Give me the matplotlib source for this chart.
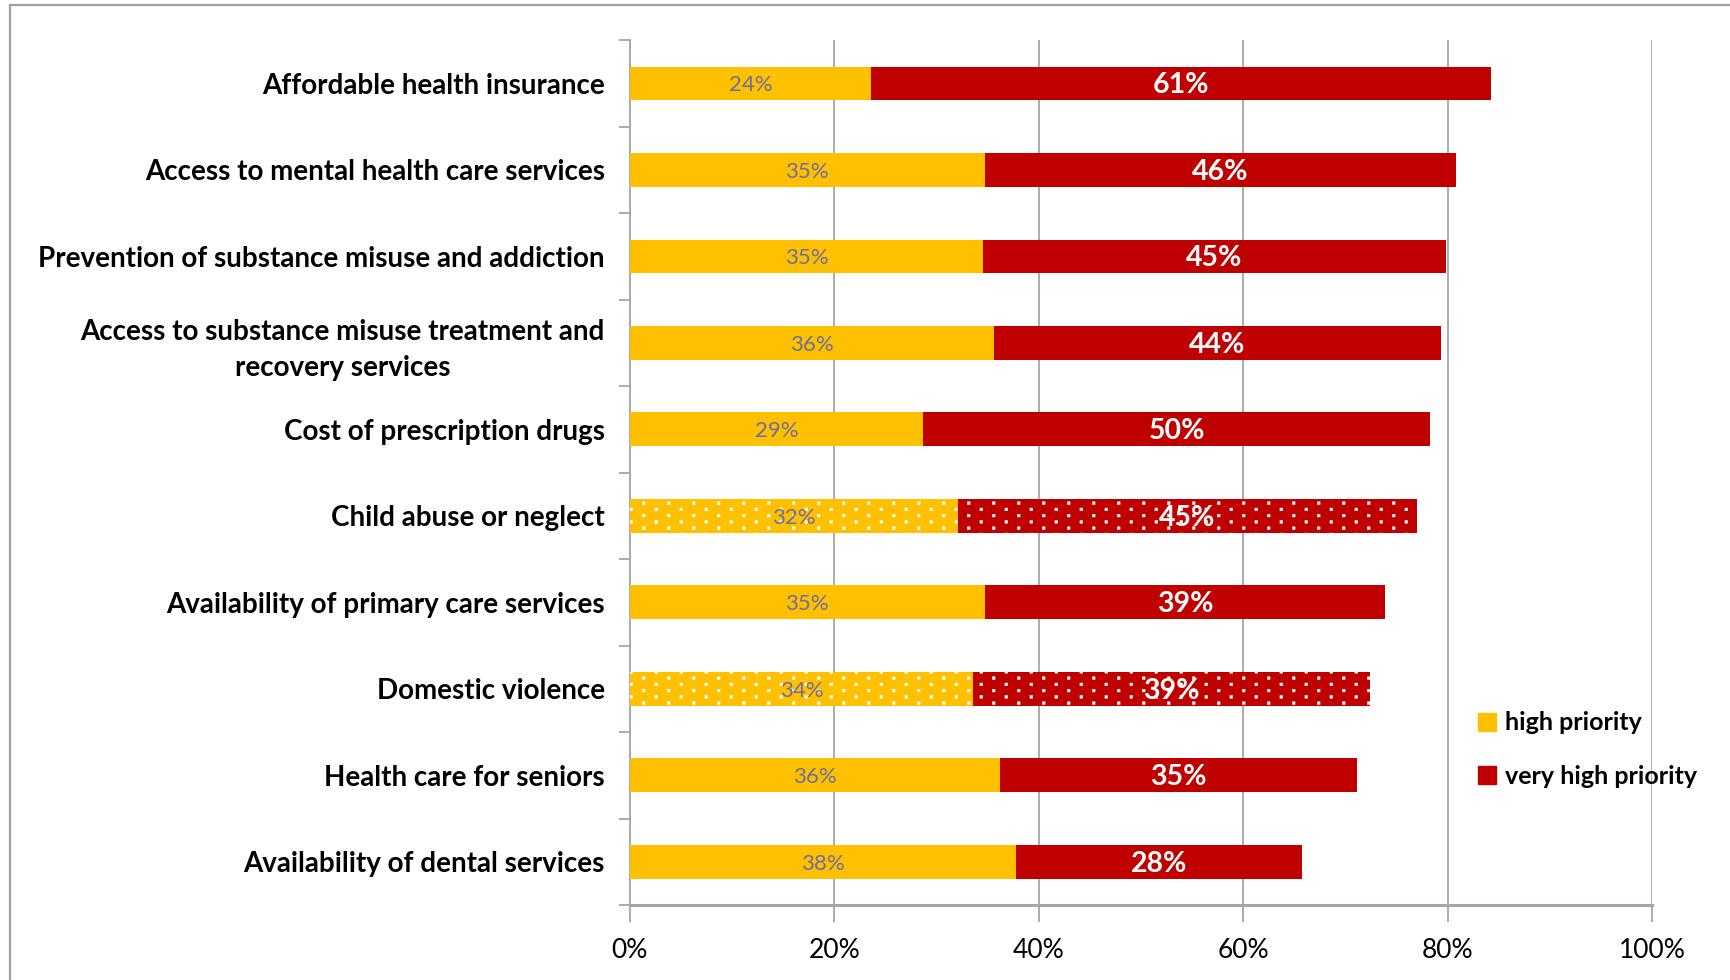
import matplotlib
matplotlib.use("Agg")
import matplotlib.pyplot as plt
import matplotlib.hatch as mhatch
from matplotlib.patches import Rectangle, Patch
from matplotlib.path import Path
import numpy as np

# Survey results: share of respondents rating each issue as a priority (%)
categories = [
    "Affordable health insurance",
    "Access to mental health care services",
    "Prevention of substance misuse and addiction",
    "Access to substance misuse treatment and\nrecovery services",
    "Cost of prescription drugs",
    "Child abuse or neglect",
    "Availability of primary care services",
    "Domestic violence",
    "Health care for seniors",
    "Availability of dental services",
]
high_priority = [23.6, 34.7, 34.6, 35.6, 28.7, 32.1, 34.7, 33.6, 36.2, 37.8]
very_high_priority = [60.6, 46.1, 45.2, 43.7, 49.6, 44.9, 39.2, 38.8, 34.9, 28.0]
series_names = ["high priority", "very high priority"]
x_ticks = [0, 20, 40, 60, 80, 100]
x_tick_labels = ["0%", "20%", "40%", "60%", "80%", "100%"]
patterned = {"Child abuse or neglect", "Domestic violence"}

YELLOW = "#FFC000"
RED = "#C00000"
GRID = "#A6A6A6"
LABEL_BLUE = "#6E6E9E"


class SquareDots(mhatch.HatchPatternBase):
    """Staggered lattice of small filled squares, used for the '.' hatch."""
    cols = 4
    rows = 16
    side = 0.026

    def __init__(self, hatch, density):
        self.n_dots = self.cols * self.rows if "." in hatch else 0
        self.num_vertices = self.n_dots * 5

    def set_vertices_and_codes(self, vertices, codes):
        h = self.side / 2
        square = np.array([[-h, -h], [h, -h], [h, h], [-h, h], [-h, -h]])
        k = 0
        for r in range(self.rows):
            yc = (r + 0.5) / self.rows
            for c in range(self.cols):
                xc = (c + 0.25 + 0.5 * (r % 2)) / self.cols
                vertices[k:k + 5] = square + [xc, yc]
                codes[k:k + 5] = [Path.MOVETO, Path.LINETO, Path.LINETO,
                                  Path.LINETO, Path.CLOSEPOLY]
                k += 5


mhatch._hatch_types = [SquareDots if t is mhatch.SmallFilledCircles else t
                       for t in mhatch._hatch_types]

plt.rcParams["font.family"] = ["Lato", "DejaVu Sans"]
plt.rcParams["hatch.color"] = "white"
plt.rcParams["hatch.linewidth"] = 0.4

fig = plt.figure(figsize=(17.3, 9.8), dpi=100)
ax = fig.add_axes([0.364, 0.0765, 0.591, 0.8825])

# outer chart-area frame
fig.patches.append(Rectangle((10 / 1730, -0.2), 1.5, 1.2 - 5 / 980,
                             transform=fig.transFigure, fill=False,
                             edgecolor="#A0A0A0", lw=1.6, zorder=0))

y = np.arange(len(categories))
bar_h = 0.39
for i, cat in enumerate(categories):
    hatch = "." if cat in patterned else None
    ax.barh(y[i], high_priority[i], height=bar_h, color=YELLOW,
            edgecolor="white" if hatch else YELLOW, linewidth=0,
            hatch=hatch, zorder=3)
    ax.barh(y[i], very_high_priority[i], left=high_priority[i], height=bar_h,
            color=RED, edgecolor="white" if hatch else RED, linewidth=0,
            hatch=hatch, zorder=3)
    ax.text(high_priority[i] / 2, y[i] + 0.02, f"{high_priority[i]:.0f}%",
            ha="center", va="center", fontsize=16, color=LABEL_BLUE, zorder=4)
    ax.text(high_priority[i] + very_high_priority[i] / 2, y[i] + 0.02,
            f"{very_high_priority[i]:.0f}%", ha="center", va="center",
            fontsize=20.5, fontweight="bold", color="white", zorder=4)

ax.set_xlim(0, 100)
ax.set_ylim(len(categories) - 0.5, -0.5)

ax.set_xticks(x_ticks)
ax.set_xticklabels(x_tick_labels, fontsize=19)
ax.set_yticks(y)
ax.set_yticklabels(categories, fontsize=20, fontweight="bold",
                   multialignment="center", linespacing=1.45)
ax.set_yticks(np.arange(len(categories) + 1) - 0.5, minor=True)

ax.tick_params(axis="y", which="major", length=0, pad=18)
ax.tick_params(axis="y", which="minor", length=8, width=1.3, color=GRID)
ax.tick_params(axis="x", which="major", length=12, width=1.3, color=GRID,
               pad=12)

ax.xaxis.grid(True, color=GRID, lw=1.3, zorder=0)
ax.set_axisbelow(True)
for side in ("top", "right"):
    ax.spines[side].set_visible(False)
ax.spines["left"].set_color(GRID)
ax.spines["left"].set_linewidth(1.3)
ax.spines["bottom"].set_color(GRID)
ax.spines["bottom"].set_linewidth(2.2)

handles = [Patch(facecolor=YELLOW, edgecolor=YELLOW),
           Patch(facecolor=RED, edgecolor=RED)]
fig.legend(handles, series_names, loc="upper left",
           bbox_to_anchor=(1455 / 1730, 1 - 689 / 980), frameon=False,
           prop={"size": 18, "weight": "bold"}, handlelength=0.75,
           handleheight=0.75, handletextpad=0.35, labelspacing=1.2)

fig.savefig("out.png", dpi=100, facecolor="white")
